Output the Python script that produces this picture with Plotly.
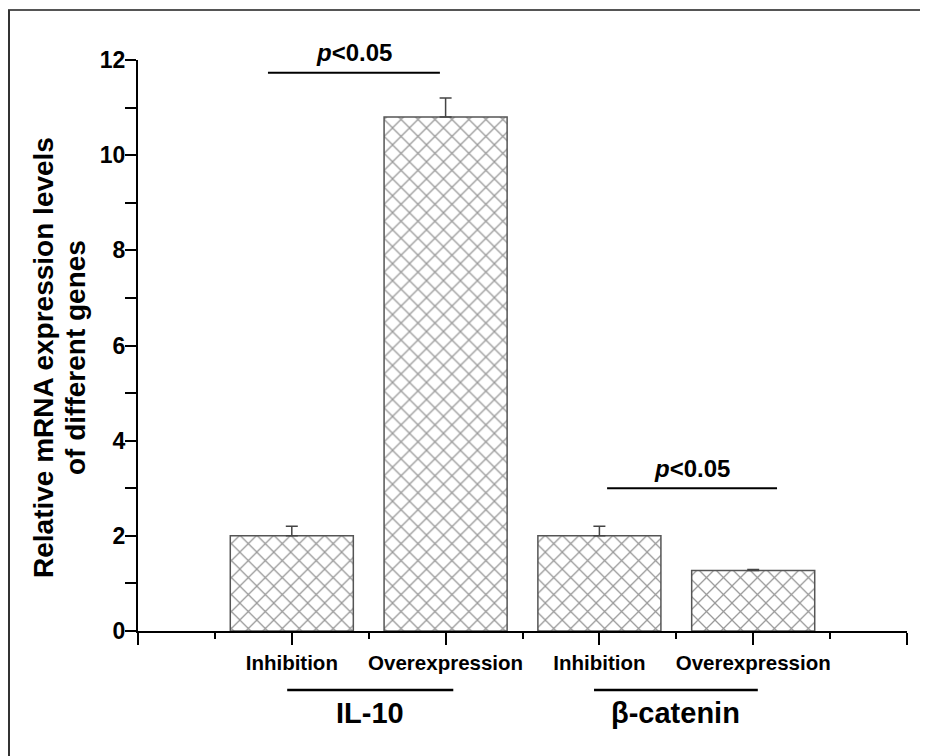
import plotly.graph_objects as go

# Data
categories = ["Inhibition", "Overexpression", "Inhibition", "Overexpression"]
positions = [1, 2, 3, 4]
values = [2.0, 10.8, 2.0, 1.27]
errors_up = [0.2, 0.4, 0.2, 0.02]
groups = ["IL-10", "β-catenin"]
group_spans = [(0.97, 2.05), (2.965, 4.03)]
pvalue_spans = [(0.845, 1.963, 11.73), (3.05, 4.155, 3.0)]
y_ticks = [0, 2, 4, 6, 8, 10, 12]
y_title_lines = ["Relative mRNA expression levels", "of different genes"]

# page body has an 8px margin; work in screen pixels and offset
OFF = 8
W, H = 928 - OFF, 756 - OFF
L, R, T, B = 138 - OFF, 21, 60 - OFF, 125
pw, ph = W - L - R, H - T - B

def px_x(p):  # screen pixel -> paper x
    return (p - OFF - L) / pw

def px_y(p):  # screen pixel -> paper y
    return (H - B - (p - OFF)) / ph

FONT = "Liberation Sans, Arial, sans-serif"

fig = go.Figure()
fig.add_trace(go.Bar(
    x=positions, y=values, width=0.8,
    marker=dict(color="white", line=dict(color="#555555", width=1.5),
                pattern=dict(shape="x", fgcolor="#333333", bgcolor="white",
                             size=12, solidity=0.2)),
    error_y=dict(type="data", array=errors_up, arrayminus=[0]*4, symmetric=False,
                 color="#444444", thickness=1.5, width=6),
    showlegend=False,
))

tickvals_x = [0] + positions + [5]
ticktext_x = [""] + [f"<b>{c}</b>" for c in categories] + [""]

fig.update_xaxes(
    range=[0, 5], tickvals=tickvals_x, ticktext=ticktext_x,
    ticks="outside", ticklen=12, tickwidth=2, tickcolor="black",
    showline=True, linecolor="black", linewidth=2, showgrid=False, zeroline=False,
    tickfont=dict(family=FONT, size=20.5, color="black"),
    minor=dict(dtick=0.5, tick0=0, ticks="outside", ticklen=6, tickwidth=2, tickcolor="black"),
)
fig.update_yaxes(
    range=[0, 12], tickvals=y_ticks, ticktext=[f"<b>{v}</b>" for v in y_ticks],
    ticks="outside", ticklen=6, tickwidth=2, tickcolor="black",
    showline=True, linecolor="black", linewidth=2, showgrid=False, zeroline=False,
    tickfont=dict(family=FONT, size=23, color="black"),
    minor=dict(dtick=1, tick0=0, ticks="outside", ticklen=11, tickwidth=2, tickcolor="black"),
)

shapes = []
annotations = []
# p-value brackets
for (x0, x1, yv) in pvalue_spans:
    shapes.append(dict(type="line", xref="x", yref="y", x0=x0, x1=x1, y0=yv, y1=yv,
                       line=dict(color="black", width=2)))
    annotations.append(dict(xref="x", yref="y", x=(x0 + x1) / 2, y=yv, yshift=20,
                            xanchor="center", yanchor="middle",
                            text="<b><i>p</i>&lt;0.05</b>", showarrow=False,
                            font=dict(family=FONT, size=24, color="black")))
# group labels
for g, (x0, x1) in zip(groups, group_spans):
    shapes.append(dict(type="line", xref="x", yref="paper", x0=x0, x1=x1,
                       y0=px_y(690), y1=px_y(690), line=dict(color="black", width=2.5)))
    annotations.append(dict(xref="x", yref="paper", x=(x0 + x1) / 2, y=px_y(713),
                            xanchor="center", yanchor="middle",
                            text=f"<b>{g}</b>", showarrow=False,
                            font=dict(family=FONT, size=29, color="black")))
# y-axis title (two lines)
for line_text, xpix in zip(y_title_lines, [43, 75]):
    annotations.append(dict(xref="paper", yref="paper", x=px_x(xpix), y=px_y(358),
                            xanchor="center", yanchor="middle",
                            text=f"<b>{line_text}</b>",
                            textangle=-90, showarrow=False,
                            font=dict(family=FONT, size=28, color="black")))
# figure border (top & left)
shapes.append(dict(type="line", xref="paper", yref="paper", x0=px_x(8), x1=px_x(940),
                   y0=px_y(10), y1=px_y(10), line=dict(color="#555555", width=2)))
shapes.append(dict(type="line", xref="paper", yref="paper", x0=px_x(9), x1=px_x(9),
                   y0=px_y(10), y1=px_y(770), line=dict(color="#333333", width=2)))

fig.update_layout(
    width=W, height=H, margin=dict(l=L, r=R, t=T, b=B),
    plot_bgcolor="white", paper_bgcolor="white",
    shapes=shapes, annotations=annotations,
    font=dict(family=FONT),
)

fig.write_html("out.html")
